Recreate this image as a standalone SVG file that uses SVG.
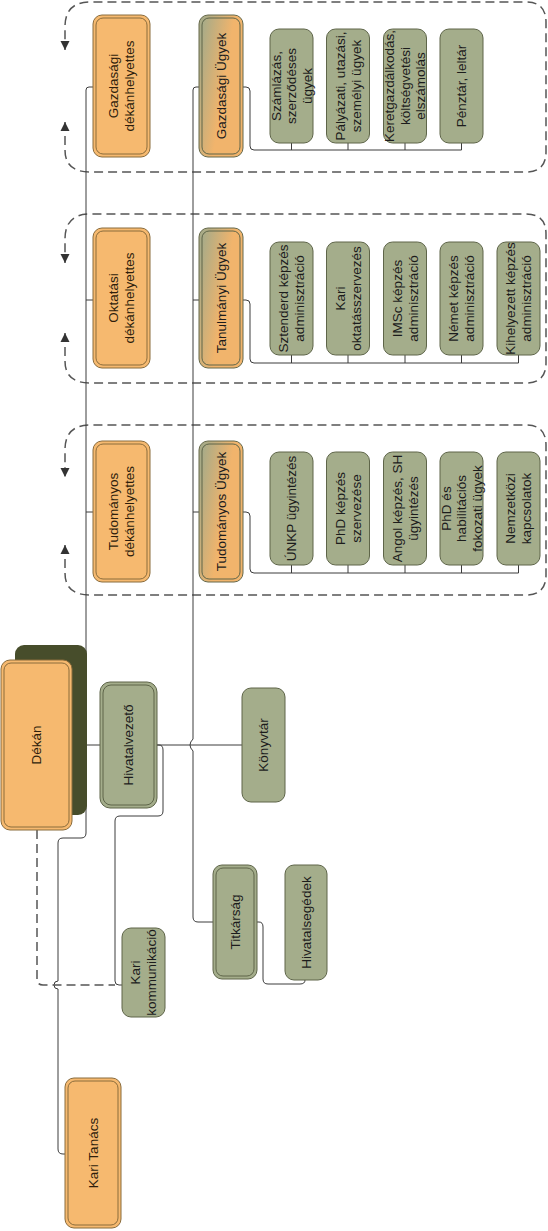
<svg xmlns="http://www.w3.org/2000/svg" width="548" height="1231" viewBox="0 0 548 1231">
<defs>
<marker id="arr" viewBox="0 0 10 10" refX="10" refY="5" markerWidth="9" markerHeight="10" markerUnits="userSpaceOnUse" orient="auto-start-reverse"><path d="M0,0 L10,5 L0,10 z" fill="#333"/></marker>
<linearGradient id="ugy" x1="0" y1="0" x2="1" y2="0.5"><stop offset="0.1" stop-color="#a9ab87"/><stop offset="0.65" stop-color="#f1b46c"/></linearGradient>
</defs>
<style>
text{font-family:"Liberation Sans",Arial,sans-serif;font-size:13.5px;text-anchor:middle;fill:#1c1c1c}
.o{fill:#f6b96f;stroke:#8a6c3c;stroke-width:1}
.oi{fill:none;stroke:#8a6c3c;stroke-width:1}
.ot{fill:#2e1e0c}
.g{fill:#a4ad8b;stroke:#5e6549;stroke-width:1}
.gi{fill:none;stroke:#5e6549;stroke-width:1}
.u{fill:url(#ugy);stroke:#66694b;stroke-width:1}
.dash{fill:none;stroke:#555;stroke-width:1.5;stroke-dasharray:9 5}
.ln{fill:none;stroke:#3c3c3c;stroke-width:1}
</style>

<g id="groups">
<path class="dash" marker-start="url(#arr)" marker-end="url(#arr)" d="M65,122 V150 Q65,172 90,172 H526 Q546,172 546,152 V22 Q546,2 526,2 H90 Q65,2 65,27 V50"/>
<path class="dash" marker-start="url(#arr)" marker-end="url(#arr)" d="M65,333 V361 Q65,383 90,383 H526 Q546,383 546,363 V234 Q546,214 526,214 H90 Q65,214 65,239 V263"/>
<path class="dash" marker-start="url(#arr)" marker-end="url(#arr)" d="M65,545 V573 Q65,595 90,595 H526 Q546,595 546,575 V445 Q546,425 526,425 H90 Q65,425 65,450 V477"/>
</g>

<g id="connectors">
<path class="ln" d="M93,87 H89 Q86,87 86,90 V833 Q86,838 81,838 H63 Q58,838 58,843 V981 A4,4 0 0 0 58,989 V1149 Q58,1154 63,1154 H65"/>
<path class="ln" d="M86,300 H93 M86,512 H93"/>
<path class="ln" d="M80,745 H100"/>
<path class="ln" d="M199,87 H196 Q193,87 193,90 V739 Q187,745 193,751 V917 Q193,922 198,922 H213"/>
<path class="ln" d="M193,300 H199 M193,512 H199"/>
<path class="ln" d="M157,745 H242"/>
<path class="ln" d="M157,745 H159 Q163,745 163,750 V811 Q163,816 158,816 H120 Q115,816 115,821 V981 Q115,985 119,985 H122"/>
<path class="dash" d="M37,830 V979 Q37,985 43,985 H115"/>
<path class="ln" d="M257,922 H259 Q263,922 263,927 V979 Q263,984 268,984 H300 Q305,984 305,980"/>
<path class="ln" d="M243,87 H246 Q250,87 250,91 V146 Q250,150 254,150 H461.5 M291.5,143 V150 M348,143 V150 M405,143 V150 M461.5,143 V150"/>
<path class="ln" d="M243,300 H246 Q250,300 250,304 V359 Q250,363 254,363 H518.5 M291.5,355 V363 M348,355 V363 M405,355 V363 M461.5,355 V363 M518.5,355 V363"/>
<path class="ln" d="M243,512 H246 Q250,512 250,516 V569 Q250,573 254,573 H518.5 M291.5,565 V573 M348,565 V573 M405,565 V573 M461.5,565 V573 M518.5,565 V573"/>
</g>

<g id="dekan">
<rect x="15" y="645" width="72" height="170" rx="9" fill="#474d2b"/>
<rect class="o" x="1" y="660" width="71" height="170" rx="9"/>
<rect class="oi" x="4" y="663" width="65" height="164" rx="7"/>
<text class="ot" transform="translate(36.5,745) rotate(-90)" x="0" y="4.7">Dékán</text>
</g>

<g id="gazd-dh">
<rect class="o" x="93" y="15" width="57" height="142" rx="9"/>
<rect class="oi" x="96" y="18" width="51" height="136" rx="7"/>
<text class="ot" transform="translate(121.5,86) rotate(-90)"><tspan x="0" y="-3.3">Gazdasági</tspan><tspan x="0" y="12.7">dékánhelyettes</tspan></text>
</g>
<g id="okt-dh">
<rect class="o" x="93" y="228" width="57" height="140" rx="9"/>
<rect class="oi" x="96" y="231" width="51" height="134" rx="7"/>
<text class="ot" transform="translate(121.5,298) rotate(-90)"><tspan x="0" y="-3.3">Oktatási</tspan><tspan x="0" y="12.7">dékánhelyettes</tspan></text>
</g>
<g id="tud-dh">
<rect class="o" x="93" y="441" width="57" height="141" rx="9"/>
<rect class="oi" x="96" y="444" width="51" height="135" rx="7"/>
<text class="ot" transform="translate(121.5,511.5) rotate(-90)"><tspan x="0" y="-3.3">Tudományos</tspan><tspan x="0" y="12.7">dékánhelyettes</tspan></text>
</g>

<g id="gazd-ugy">
<rect class="u" x="199" y="15" width="44" height="142" rx="9"/>
<rect class="gi" x="202" y="18" width="38" height="136" rx="7"/>
<text transform="translate(221,86) rotate(-90)" x="0" y="4.7">Gazdasági Ügyek</text>
</g>
<g id="tan-ugy">
<rect class="u" x="199" y="228" width="44" height="140" rx="9"/>
<rect class="gi" x="202" y="231" width="38" height="134" rx="7"/>
<text transform="translate(221,298) rotate(-90)" x="0" y="4.7">Tanulmányi Ügyek</text>
</g>
<g id="tud-ugy">
<rect class="u" x="199" y="441" width="44" height="141" rx="9"/>
<rect class="gi" x="202" y="444" width="38" height="135" rx="7"/>
<text transform="translate(221,511.5) rotate(-90)" x="0" y="4.7">Tudományos Ügyek</text>
</g>

<g id="szamlazas">
<rect class="g" x="270" y="29" width="43" height="114" rx="9"/>
<text transform="translate(291.5,86) rotate(-90)"><tspan x="0" y="-10.8">Számlázás,</tspan><tspan x="0" y="4.7">szerződéses</tspan><tspan x="0" y="20.2">ügyek</tspan></text>
</g>
<g id="palyazati">
<rect class="g" x="326.5" y="29" width="43" height="114" rx="9"/>
<text transform="translate(348,86) rotate(-90)"><tspan x="0" y="-3.3">Pályázati, utazási,</tspan><tspan x="0" y="12.7">személyi ügyek</tspan></text>
</g>
<g id="keret">
<rect class="g" x="383.5" y="29" width="43" height="114" rx="9"/>
<text transform="translate(405,86) rotate(-90)"><tspan x="0" y="-10.8">Keretgazdálkodás,</tspan><tspan x="0" y="4.7">költségvetési</tspan><tspan x="0" y="20.2">elszámolás</tspan></text>
</g>
<g id="penztar">
<rect class="g" x="440" y="29" width="43" height="114" rx="9"/>
<text transform="translate(461.5,86) rotate(-90)" x="0" y="4.7">Pénztár, leltár</text>
</g>

<g id="sztenderd">
<rect class="g" x="270" y="242" width="43" height="113" rx="9"/>
<text transform="translate(291.5,298.5) rotate(-90)"><tspan x="0" y="-3.3">Sztenderd képzés</tspan><tspan x="0" y="12.7">adminisztráció</tspan></text>
</g>
<g id="oktszerv">
<rect class="g" x="326.5" y="242" width="43" height="113" rx="9"/>
<text transform="translate(348,298.5) rotate(-90)"><tspan x="0" y="-3.3">Kari</tspan><tspan x="0" y="12.7">oktatásszervezés</tspan></text>
</g>
<g id="imsc">
<rect class="g" x="383.5" y="242" width="43" height="113" rx="9"/>
<text transform="translate(405,298.5) rotate(-90)"><tspan x="0" y="-3.3">IMSc képzés</tspan><tspan x="0" y="12.7">adminisztráció</tspan></text>
</g>
<g id="nemet">
<rect class="g" x="440" y="242" width="43" height="113" rx="9"/>
<text transform="translate(461.5,298.5) rotate(-90)"><tspan x="0" y="-3.3">Német képzés</tspan><tspan x="0" y="12.7">adminisztráció</tspan></text>
</g>
<g id="kihelyezett">
<rect class="g" x="497" y="242" width="43" height="113" rx="9"/>
<text transform="translate(518.5,298.5) rotate(-90)"><tspan x="0" y="-3.3">Kihelyezett képzés</tspan><tspan x="0" y="12.7">adminisztráció</tspan></text>
</g>

<g id="unkp">
<rect class="g" x="270" y="452" width="43" height="113" rx="9"/>
<text transform="translate(291.5,508.5) rotate(-90)" x="0" y="4.7">ÚNKP ügyintézés</text>
</g>
<g id="phd">
<rect class="g" x="326.5" y="452" width="43" height="113" rx="9"/>
<text transform="translate(348,508.5) rotate(-90)"><tspan x="0" y="-3.3">PhD képzés</tspan><tspan x="0" y="12.7">szervezése</tspan></text>
</g>
<g id="angol">
<rect class="g" x="383.5" y="452" width="43" height="113" rx="9"/>
<text transform="translate(405,508.5) rotate(-90)"><tspan x="0" y="-3.3">Angol képzés, SH</tspan><tspan x="0" y="12.7">ügyintézés</tspan></text>
</g>
<g id="habil">
<rect class="g" x="440" y="452" width="43" height="113" rx="9"/>
<text transform="translate(461.5,508.5) rotate(-90)"><tspan x="0" y="-10.8">PhD és</tspan><tspan x="0" y="4.7">habilitációs</tspan><tspan x="0" y="20.2">fokozati ügyek</tspan></text>
</g>
<g id="nemzetkozi">
<rect class="g" x="497" y="452" width="43" height="113" rx="9"/>
<text transform="translate(518.5,508.5) rotate(-90)"><tspan x="0" y="-3.3">Nemzetközi</tspan><tspan x="0" y="12.7">kapcsolatok</tspan></text>
</g>

<g id="hivatalvezeto">
<rect class="g" x="100" y="682" width="57" height="126" rx="10"/>
<rect class="gi" x="103" y="685" width="51" height="120" rx="8"/>
<text transform="translate(128.5,745) rotate(-90)" x="0" y="4.7">Hivatalvezető</text>
</g>
<g id="konyvtar">
<rect class="g" x="242" y="688" width="43" height="114" rx="9"/>
<text transform="translate(263.5,745) rotate(-90)" x="0" y="4.7">Könyvtár</text>
</g>
<g id="titkarsag">
<rect class="g" x="213" y="865" width="44" height="114" rx="9"/>
<rect class="gi" x="216" y="868" width="38" height="108" rx="7"/>
<text transform="translate(235,922) rotate(-90)" x="0" y="4.7">Titkárság</text>
</g>
<g id="hivatalsegedek">
<rect class="g" x="285" y="865" width="42" height="115" rx="9"/>
<text transform="translate(306,922.5) rotate(-90)" x="0" y="4.7">Hivatalsegédek</text>
</g>
<g id="karikomm">
<rect class="g" x="122" y="928" width="43" height="89" rx="9"/>
<text transform="translate(143.5,972.5) rotate(-90)"><tspan x="0" y="-3.3">Kari</tspan><tspan x="0" y="12.7">kommunikáció</tspan></text>
</g>
<g id="karitanacs">
<rect class="o" x="65" y="1078" width="56" height="150" rx="9"/>
<rect class="oi" x="68" y="1081" width="50" height="144" rx="7"/>
<text class="ot" transform="translate(93,1153) rotate(-90)" x="0" y="4.7">Kari Tanács</text>
</g>
</svg>
